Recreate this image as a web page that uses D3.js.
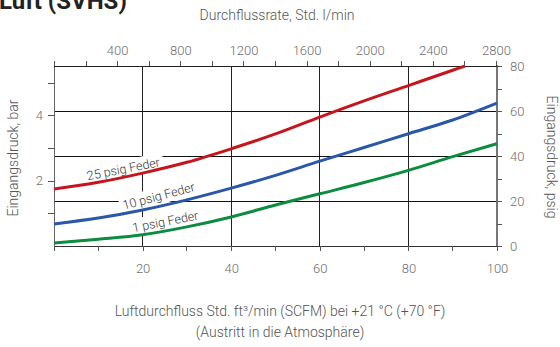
<!DOCTYPE html>
<html>
<head>
<meta charset="utf-8">
<script src="https://cdn.jsdelivr.net/npm/d3@7"></script>
<style>
  html, body { margin: 0; padding: 0; background: #fff; }
  svg { display: block; font-family: Roboto, "Noto Sans", sans-serif; }
</style>
</head>
<body>
<svg id="chart" width="560" height="347"></svg>
<script>
// Flow (SCFM) vs inlet pressure (psig) for three regulator springs
const flow25 = [0, 10, 20, 30, 40, 50, 60, 70, 80, 90, 92.8];
const psig25 = [25.3, 28.3, 32.4, 37.2, 43.2, 49.8, 57.3, 64.5, 71.3, 78.1, 80];
const flow10 = [0, 10, 20, 30, 40, 50, 60, 70, 80, 90, 100];
const psig10 = [9.8, 12.4, 16.0, 20.5, 25.7, 31.4, 37.7, 43.8, 49.9, 56.0, 63.5];
const flow1 = [0, 10, 20, 30, 40, 50, 60, 70, 80, 90, 100];
const psig1 = [1.3, 3.0, 5.0, 8.5, 12.9, 18.2, 23.2, 28.2, 33.6, 39.7, 45.5];

const seriesNames = ["25 psig Feder", "10 psig Feder", "1 psig Feder"];
const seriesColors = ["#c4161c", "#2a57a8", "#0b8c3e"];

const scfmTicks = [20, 40, 60, 80, 100];
const scfmMinor = [0, 10, 30, 50, 70, 90];
const lminTicks = [400, 800, 1200, 1600, 2000, 2400, 2800];
const psigTicks = [0, 20, 40, 60, 80];
const barTicks = [2, 4];

const title = "Luft (SVHS)";
const topTitle = "Durchflussrate, Std. l/min";
const leftTitle = "Eingangsdruck, bar";
const rightTitle = "Eingangsdruck, psig";
const bottomTitle = ["Luftdurchfluss Std. ft³/min (SCFM) bei +21 °C (+70 °F)", "(Austritt in die Atmosphäre)"];

const PSI_PER_BAR = 14.5038;

const svg = d3.select("#chart");
const L = 54, R = 497, T = 66, B = 246;

const x = d3.scaleLinear().domain([0, 100]).range([L, R]);
const xTop = d3.scaleLinear().domain([0, 2800]).range([L, 496]);
const y = d3.scaleLinear().domain([0, 80]).range([B, T]);
const yBar = d3.scaleLinear().domain([0, 80 / PSI_PER_BAR]).range([B, T]);

const textColor = "#555";
const tickColor = "#6e6e6e";

// title (runs off the top edge)
svg.append("text").attr("x", -1).attr("y", 9)
  .attr("font-size", 24).attr("font-weight", 700).attr("fill", "#222")
  .text(title);

// grid
const grid = svg.append("g");
grid.selectAll("line.v").data([20, 40, 60, 80]).join("line")
  .attr("x1", d => x(d)).attr("x2", d => x(d)).attr("y1", T).attr("y2", B)
  .attr("stroke", "#222").attr("stroke-width", 1).attr("shape-rendering", "crispEdges");
grid.selectAll("line.h").data([20, 40, 60]).join("line")
  .attr("x1", L).attr("x2", R).attr("y1", d => y(d)).attr("y2", d => y(d))
  .attr("stroke", "#111").attr("stroke-width", 1).attr("shape-rendering", "crispEdges");

// series data as point lists
const series = [
  flow25.map((f, i) => [f, psig25[i]]),
  flow10.map((f, i) => [f, psig10[i]]),
  flow1.map((f, i) => [f, psig1[i]])
];

// label placement along each curve
const labelSpec = [
  { at: 16, angle: -11, off: -7 },
  { at: 24.2, angle: -15, off: -9 },
  { at: 25.5, angle: -11, off: -8 }
];

function valueAt(pts, f) {
  for (let i = 1; i < pts.length; i++) {
    if (f <= pts[i][0]) {
      const t = (f - pts[i - 1][0]) / (pts[i][0] - pts[i - 1][0]);
      return pts[i - 1][1] + t * (pts[i][1] - pts[i - 1][1]);
    }
  }
  return pts[pts.length - 1][1];
}

const labels = svg.append("g");
const labelNodes = labelSpec.map((s, i) => {
  const px = x(s.at), py = y(valueAt(series[i], s.at));
  const g = labels.append("g").attr("transform", `translate(${px},${py}) rotate(${s.angle})`);
  const bg = g.append("rect").attr("fill", "#fff");
  const t = g.append("text").attr("y", s.off).attr("text-anchor", "middle")
    .attr("font-size", 12.5).attr("font-weight", 300).attr("fill", "#333")
    .attr("dominant-baseline", "middle").text(seriesNames[i]);
  const bb = t.node().getBBox();
  bg.attr("x", bb.x - 3).attr("y", bb.y - 1).attr("width", bb.width + 6).attr("height", bb.height + 2);
  return g;
});

// axes frame
svg.append("line").attr("x1", L).attr("x2", L).attr("y1", T).attr("y2", B)
  .attr("stroke", "#666").attr("shape-rendering", "crispEdges");
svg.append("line").attr("x1", R).attr("x2", R).attr("y1", T - 1).attr("y2", B + 1)
  .attr("stroke", "#777").attr("stroke-width", 1.5).attr("shape-rendering", "crispEdges");
svg.append("line").attr("x1", L).attr("x2", R).attr("y1", B).attr("y2", B)
  .attr("stroke", "#333").attr("shape-rendering", "crispEdges");
svg.append("line").attr("x1", L).attr("x2", R + 3).attr("y1", T).attr("y2", T)
  .attr("stroke", "#222").attr("shape-rendering", "crispEdges");

// curves
const line = d3.line().x(d => x(d[0])).y(d => y(d[1])).curve(d3.curveMonotoneX);
svg.append("g").selectAll("path").data(series).join("path")
  .attr("d", line).attr("fill", "none")
  .attr("stroke", (d, i) => seriesColors[i]).attr("stroke-width", 3)
  .attr("stroke-linecap", "butt");

labelNodes.forEach(g => g.raise());

// bottom axis (SCFM)
const bottomAxis = d3.axisBottom(x).tickValues(scfmTicks).tickSize(5).tickPadding(13)
  .tickFormat(d3.format("d"));
const gb = svg.append("g").attr("transform", `translate(0,${B})`).call(bottomAxis);
gb.select(".domain").remove();
svg.append("g").selectAll("line").data(scfmMinor).join("line")
  .attr("x1", d => x(d)).attr("x2", d => x(d)).attr("y1", B).attr("y2", B + 5)
  .attr("stroke", "#555").attr("shape-rendering", "crispEdges");

// top axis (l/min)
const topAxis = d3.axisTop(xTop).tickValues(d3.range(0, 2801, 200)).tickSize(5).tickPadding(6)
  .tickFormat(d => lminTicks.includes(d) ? d : "");
const gt = svg.append("g").attr("transform", `translate(0,${T})`).call(topAxis);
gt.select(".domain").remove();

// right axis (psig)
const rightAxis = d3.axisRight(y).tickValues(d3.range(0, 81, 10)).tickSize(5).tickPadding(8)
  .tickFormat(d => psigTicks.includes(d) ? d : "");
const gr = svg.append("g").attr("transform", `translate(${R},0)`).call(rightAxis);
gr.select(".domain").remove();

// left axis (bar)
const leftAxis = d3.axisLeft(yBar).tickValues([1, 2, 3, 4, 5]).tickSize(6).tickPadding(5)
  .tickFormat(d => barTicks.includes(d) ? d : "");
const gl = svg.append("g").attr("transform", `translate(${L},0)`).call(leftAxis);
gl.select(".domain").remove();

[gb, gt, gr, gl].forEach(g => {
  g.selectAll("text").attr("font-size", 13).attr("font-weight", 300)
    .attr("fill", tickColor).attr("font-family", "Roboto, sans-serif");
  g.selectAll("line").attr("stroke", "#555").attr("shape-rendering", "crispEdges");
});

// axis titles
svg.append("text").attr("x", 277).attr("y", 20).attr("text-anchor", "middle")
  .attr("font-size", 14).attr("font-weight", 300).attr("fill", textColor).text(topTitle);
svg.append("text").attr("transform", "translate(18,158) rotate(-90)").attr("text-anchor", "middle")
  .attr("font-size", 14).attr("font-weight", 300).attr("fill", textColor).text(leftTitle);
svg.append("text").attr("transform", "translate(547,157) rotate(90)").attr("text-anchor", "middle")
  .attr("font-size", 14).attr("font-weight", 300).attr("fill", textColor).text(rightTitle);
svg.append("g").selectAll("text").data(bottomTitle).join("text")
  .attr("x", 280).attr("y", (d, i) => 316 + i * 21).attr("text-anchor", "middle")
  .attr("font-size", 14).attr("font-weight", 300).attr("fill", textColor).text(d => d);
</script>
</body>
</html>
